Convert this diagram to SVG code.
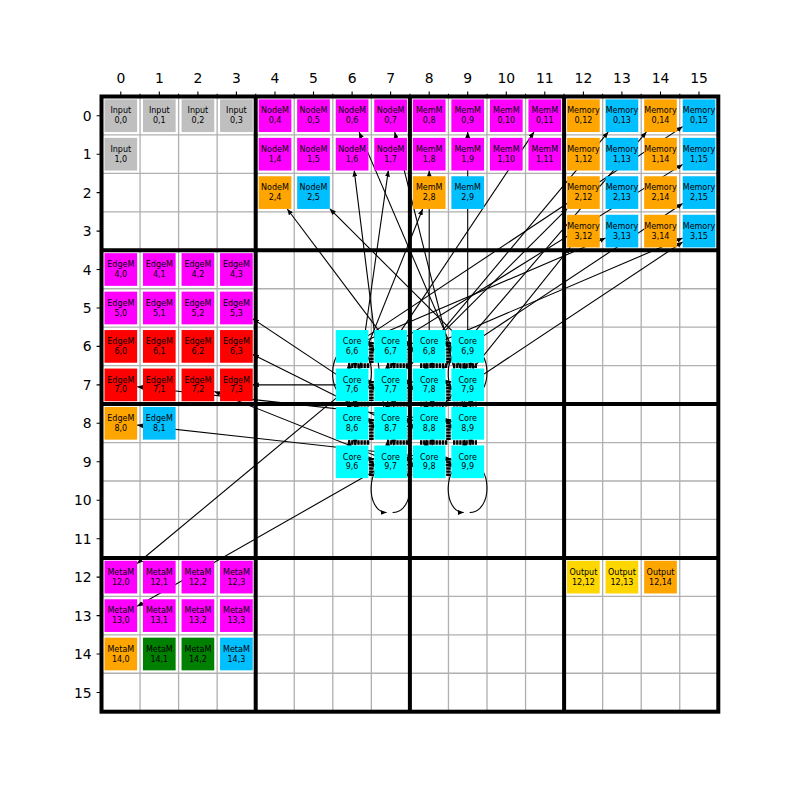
<svg xmlns="http://www.w3.org/2000/svg" width="800" height="800" viewBox="0 0 800 800">
<style>
.g{stroke:#b0b0b0;stroke-width:1.3;fill:none}
.tk{stroke:#000;stroke-width:1.1;fill:none}
.th{stroke:#000;stroke-width:4;fill:none}
.tl{font-family:"DejaVu Sans","Liberation Sans",sans-serif;font-size:13.9px;fill:#000}
.n text{font-family:"DejaVu Sans","Liberation Sans",sans-serif;font-size:8px;fill:#000;text-anchor:middle}
.n rect{stroke:none}
.gy{fill:#bfbfbf}.mg{fill:#ff00ff}.or{fill:#ffa500}.bl{fill:#00bfff}.rd{fill:#ff0000}.cy{fill:#00ffff}.gn{fill:#008000}.gd{fill:#ffd700}
.e line,.e path{stroke:#000;stroke-width:1.1;fill:none;marker-end:url(#ah)}
.e path.bar{stroke-width:4.6;stroke-dasharray:2.4 0.7;marker-end:none}
</style>
<defs>
<marker id="ah" viewBox="0 0 6 5" refX="6" refY="2.5" markerWidth="6" markerHeight="5" markerUnits="userSpaceOnUse" orient="auto"><path d="M0,0 L6,2.5 L0,5 z" fill="#000"/></marker>
<g id="b"><rect x="-16.35" y="-16.35" width="32.7" height="32.7"/></g>
</defs>
<rect width="800" height="800" fill="#fff"/>
<g id="grid">
<path class="g" d="M140.05,96.5V711.7M178.6,96.5V711.7M217.15,96.5V711.7M294.25,96.5V711.7M332.8,96.5V711.7M371.35,96.5V711.7M448.45,96.5V711.7M487,96.5V711.7M525.55,96.5V711.7M602.65,96.5V711.7M641.2,96.5V711.7M679.75,96.5V711.7M101.5,134.95H718.3M101.5,173.4H718.3M101.5,211.85H718.3M101.5,288.75H718.3M101.5,327.2H718.3M101.5,365.65H718.3M101.5,442.55H718.3M101.5,481H718.3M101.5,519.45H718.3M101.5,596.35H718.3M101.5,634.8H718.3M101.5,673.25H718.3"/>
<path class="th" d="M255.7,96.5V711.7M409.9,96.5V711.7M564.1,96.5V711.7M101.5,250.3H718.3M101.5,404.1H718.3M101.5,557.9H718.3"/>
<rect class="th" x="101.5" y="96.5" width="616.8" height="615.2"/>
<path class="tk" d="M120.8,96.5v-4.9M159.3,96.5v-4.9M197.9,96.5v-4.9M236.4,96.5v-4.9M275,96.5v-4.9M313.5,96.5v-4.9M352.1,96.5v-4.9M390.6,96.5v-4.9M429.2,96.5v-4.9M467.7,96.5v-4.9M506.3,96.5v-4.9M544.8,96.5v-4.9M583.4,96.5v-4.9M621.9,96.5v-4.9M660.5,96.5v-4.9M699,96.5v-4.9M140.05,96.5v-2.8M178.6,96.5v-2.8M217.15,96.5v-2.8M255.7,96.5v-2.8M294.25,96.5v-2.8M332.8,96.5v-2.8M371.35,96.5v-2.8M409.9,96.5v-2.8M448.45,96.5v-2.8M487,96.5v-2.8M525.55,96.5v-2.8M564.1,96.5v-2.8M602.65,96.5v-2.8M641.2,96.5v-2.8M679.75,96.5v-2.8M101.5,115.7h-4.9M101.5,154.2h-4.9M101.5,192.6h-4.9M101.5,231.1h-4.9M101.5,269.5h-4.9M101.5,308h-4.9M101.5,346.4h-4.9M101.5,384.9h-4.9M101.5,423.3h-4.9M101.5,461.8h-4.9M101.5,500.2h-4.9M101.5,538.7h-4.9M101.5,577.1h-4.9M101.5,615.6h-4.9M101.5,654h-4.9M101.5,692.5h-4.9"/>
</g>
<g id="ticklabels" class="tl">
<g text-anchor="middle">
<text x="120.8" y="83.3">0</text><text x="159.3" y="83.3">1</text><text x="197.9" y="83.3">2</text><text x="236.4" y="83.3">3</text><text x="275" y="83.3">4</text><text x="313.5" y="83.3">5</text><text x="352.1" y="83.3">6</text><text x="390.6" y="83.3">7</text><text x="429.2" y="83.3">8</text><text x="467.7" y="83.3">9</text><text x="506.3" y="83.3">10</text><text x="544.8" y="83.3">11</text><text x="583.4" y="83.3">12</text><text x="621.9" y="83.3">13</text><text x="660.5" y="83.3">14</text><text x="699" y="83.3">15</text>
</g>
<g text-anchor="end">
<text x="91.7" y="120.7">0</text><text x="91.7" y="159.2">1</text><text x="91.7" y="197.6">2</text><text x="91.7" y="236.1">3</text><text x="91.7" y="274.5">4</text><text x="91.7" y="313">5</text><text x="91.7" y="351.4">6</text><text x="91.7" y="389.9">7</text><text x="91.7" y="428.3">8</text><text x="91.7" y="466.8">9</text><text x="91.7" y="505.2">10</text><text x="91.7" y="543.7">11</text><text x="91.7" y="582.1">12</text><text x="91.7" y="620.6">13</text><text x="91.7" y="659">14</text><text x="91.7" y="697.5">15</text>
</g>
</g>
<g id="connectors" class="e">
<line x1="467.7" y1="384.9" x2="359.1" y2="132.1"/>
<line x1="467.7" y1="423.3" x2="394.7" y2="132.1"/>
<line x1="352.1" y1="423.3" x2="388.3" y2="170.6"/>
<line x1="467.7" y1="346.4" x2="467.7" y2="132.1"/>
<line x1="429.2" y1="346.4" x2="429.2" y2="170.6"/>
<line x1="352.1" y1="384.9" x2="422.6" y2="209"/>
<line x1="390.6" y1="346.4" x2="533.9" y2="132.1"/>
<line x1="390.6" y1="346.4" x2="287.3" y2="209"/>
<line x1="467.7" y1="346.4" x2="329.9" y2="208.9"/>
<line x1="429.2" y1="346.4" x2="608.2" y2="132.1"/>
<line x1="467.7" y1="346.4" x2="682.7" y2="203.5"/>
<line x1="467.7" y1="384.9" x2="682.7" y2="242"/>
<line x1="429.2" y1="346.4" x2="682.7" y2="238.1"/>
<line x1="352.1" y1="346.4" x2="682.7" y2="126.6"/>
<line x1="429.2" y1="384.9" x2="646.4" y2="132.1"/>
<line x1="390.6" y1="346.4" x2="682.7" y2="164.4"/>
<line x1="352.1" y1="346.4" x2="605.6" y2="238.1"/>
<line x1="390.6" y1="384.9" x2="567" y2="208.9"/>
<line x1="429.2" y1="423.3" x2="570.3" y2="247.4"/>
<line x1="390.6" y1="461.8" x2="354.2" y2="170.6"/>
<line x1="467.7" y1="423.3" x2="137.2" y2="386.7"/>
<line x1="390.6" y1="461.8" x2="214.3" y2="391.4"/>
<line x1="352.1" y1="384.9" x2="252.8" y2="384.9"/>
<line x1="352.1" y1="384.9" x2="252.8" y2="318.9"/>
<line x1="390.6" y1="423.3" x2="252.8" y2="354.6"/>
<line x1="467.7" y1="461.8" x2="137.2" y2="425.1"/>
<line x1="352.1" y1="384.9" x2="137.2" y2="563.5"/>
<line x1="390.6" y1="461.8" x2="137.2" y2="606.3"/>
<path d="M392.6,512.5C416,512.5 416,461.8 390.6,461.8C365.3,461.8 365.3,512.5 386.6,512.5"/>
<path d="M469.7,512.5C493.1,512.5 493.1,461.8 467.7,461.8C442.4,461.8 442.4,512.5 463.7,512.5"/>
<path d="M354.1,397.1C377.5,397.1 377.5,346.4 352.1,346.4C326.8,346.4 326.8,397.1 348.1,397.1"/>
<path d="M469.7,397.1C493.1,397.1 493.1,346.4 467.7,346.4C442.4,346.4 442.4,397.1 463.7,397.1"/>
<path class="bar" d="M348,365.65H370M387,365.65H408M420,365.65H448M453,365.65H477M348,442.55H370M387,442.55H408M420,442.55H448M453,442.55H477M348,404.1H370M387,404.1H408M420,404.1H448M453,404.1H477"/>
<path class="bar" d="M371.35,342V363M371.35,381V401M371.35,419V440M371.35,458V476M448.45,342V363M448.45,381V401M448.45,419V440M448.45,458V476M409.9,342V363M409.9,381V401M409.9,419V440M409.9,458V476"/>
<line x1="352.1" y1="343.4" x2="374.25" y2="343.4"/><line x1="390.6" y1="349.4" x2="368.45" y2="349.4"/>
<line x1="390.6" y1="343.4" x2="412.85" y2="343.4"/><line x1="429.2" y1="349.4" x2="406.95" y2="349.4"/>
<line x1="429.2" y1="343.4" x2="451.35" y2="343.4"/><line x1="467.7" y1="349.4" x2="445.55" y2="349.4"/>
<line x1="352.1" y1="381.9" x2="374.25" y2="381.9"/><line x1="390.6" y1="387.9" x2="368.45" y2="387.9"/>
<line x1="390.6" y1="381.9" x2="412.85" y2="381.9"/><line x1="429.2" y1="387.9" x2="406.95" y2="387.9"/>
<line x1="429.2" y1="381.9" x2="451.35" y2="381.9"/><line x1="467.7" y1="387.9" x2="445.55" y2="387.9"/>
<line x1="352.1" y1="420.3" x2="374.25" y2="420.3"/><line x1="390.6" y1="426.3" x2="368.45" y2="426.3"/>
<line x1="390.6" y1="420.3" x2="412.85" y2="420.3"/><line x1="429.2" y1="426.3" x2="406.95" y2="426.3"/>
<line x1="429.2" y1="420.3" x2="451.35" y2="420.3"/><line x1="467.7" y1="426.3" x2="445.55" y2="426.3"/>
<line x1="352.1" y1="458.8" x2="374.25" y2="458.8"/><line x1="390.6" y1="464.8" x2="368.45" y2="464.8"/>
<line x1="390.6" y1="458.8" x2="412.85" y2="458.8"/><line x1="429.2" y1="464.8" x2="406.95" y2="464.8"/>
<line x1="429.2" y1="458.8" x2="451.35" y2="458.8"/><line x1="467.7" y1="464.8" x2="445.55" y2="464.8"/>
<line x1="355.1" y1="346.4" x2="355.1" y2="368.55"/><line x1="349.1" y1="384.9" x2="349.1" y2="362.75"/>
<line x1="393.6" y1="346.4" x2="393.6" y2="368.55"/><line x1="387.6" y1="384.9" x2="387.6" y2="362.75"/>
<line x1="432.2" y1="346.4" x2="432.2" y2="368.55"/><line x1="426.2" y1="384.9" x2="426.2" y2="362.75"/>
<line x1="470.7" y1="346.4" x2="470.7" y2="368.55"/><line x1="464.7" y1="384.9" x2="464.7" y2="362.75"/>
<line x1="355.1" y1="384.9" x2="355.1" y2="406.95"/><line x1="349.1" y1="423.3" x2="349.1" y2="401.25"/>
<line x1="393.6" y1="384.9" x2="393.6" y2="406.95"/><line x1="387.6" y1="423.3" x2="387.6" y2="401.25"/>
<line x1="432.2" y1="384.9" x2="432.2" y2="406.95"/><line x1="426.2" y1="423.3" x2="426.2" y2="401.25"/>
<line x1="470.7" y1="384.9" x2="470.7" y2="406.95"/><line x1="464.7" y1="423.3" x2="464.7" y2="401.25"/>
<line x1="355.1" y1="423.3" x2="355.1" y2="445.45"/><line x1="349.1" y1="461.8" x2="349.1" y2="439.65"/>
<line x1="393.6" y1="423.3" x2="393.6" y2="445.45"/><line x1="387.6" y1="461.8" x2="387.6" y2="439.65"/>
<line x1="432.2" y1="423.3" x2="432.2" y2="445.45"/><line x1="426.2" y1="461.8" x2="426.2" y2="439.65"/>
<line x1="470.7" y1="423.3" x2="470.7" y2="445.45"/><line x1="464.7" y1="461.8" x2="464.7" y2="439.65"/>
</g>
<g id="nodes" class="n">
<g id="n0-0" transform="translate(120.8,115.7)"><use href="#b" class="gy"/><text y="-2.3">Input</text><text y="7.5">0,0</text></g>
<g id="n0-1" transform="translate(159.3,115.7)"><use href="#b" class="gy"/><text y="-2.3">Input</text><text y="7.5">0,1</text></g>
<g id="n0-2" transform="translate(197.9,115.7)"><use href="#b" class="gy"/><text y="-2.3">Input</text><text y="7.5">0,2</text></g>
<g id="n0-3" transform="translate(236.4,115.7)"><use href="#b" class="gy"/><text y="-2.3">Input</text><text y="7.5">0,3</text></g>
<g id="n1-0" transform="translate(120.8,154.2)"><use href="#b" class="gy"/><text y="-2.3">Input</text><text y="7.5">1,0</text></g>
<g id="n0-4" transform="translate(275,115.7)"><use href="#b" class="mg"/><text y="-2.3">NodeM</text><text y="7.5">0,4</text></g>
<g id="n0-5" transform="translate(313.5,115.7)"><use href="#b" class="mg"/><text y="-2.3">NodeM</text><text y="7.5">0,5</text></g>
<g id="n0-6" transform="translate(352.1,115.7)"><use href="#b" class="mg"/><text y="-2.3">NodeM</text><text y="7.5">0,6</text></g>
<g id="n0-7" transform="translate(390.6,115.7)"><use href="#b" class="mg"/><text y="-2.3">NodeM</text><text y="7.5">0,7</text></g>
<g id="n1-4" transform="translate(275,154.2)"><use href="#b" class="mg"/><text y="-2.3">NodeM</text><text y="7.5">1,4</text></g>
<g id="n1-5" transform="translate(313.5,154.2)"><use href="#b" class="mg"/><text y="-2.3">NodeM</text><text y="7.5">1,5</text></g>
<g id="n1-6" transform="translate(352.1,154.2)"><use href="#b" class="mg"/><text y="-2.3">NodeM</text><text y="7.5">1,6</text></g>
<g id="n1-7" transform="translate(390.6,154.2)"><use href="#b" class="mg"/><text y="-2.3">NodeM</text><text y="7.5">1,7</text></g>
<g id="n2-4" transform="translate(275,192.6)"><use href="#b" class="or"/><text y="-2.3">NodeM</text><text y="7.5">2,4</text></g>
<g id="n2-5" transform="translate(313.5,192.6)"><use href="#b" class="bl"/><text y="-2.3">NodeM</text><text y="7.5">2,5</text></g>
<g id="n0-8" transform="translate(429.2,115.7)"><use href="#b" class="mg"/><text y="-2.3">MemM</text><text y="7.5">0,8</text></g>
<g id="n0-9" transform="translate(467.7,115.7)"><use href="#b" class="mg"/><text y="-2.3">MemM</text><text y="7.5">0,9</text></g>
<g id="n0-10" transform="translate(506.3,115.7)"><use href="#b" class="mg"/><text y="-2.3">MemM</text><text y="7.5">0,10</text></g>
<g id="n0-11" transform="translate(544.8,115.7)"><use href="#b" class="mg"/><text y="-2.3">MemM</text><text y="7.5">0,11</text></g>
<g id="n1-8" transform="translate(429.2,154.2)"><use href="#b" class="mg"/><text y="-2.3">MemM</text><text y="7.5">1,8</text></g>
<g id="n1-9" transform="translate(467.7,154.2)"><use href="#b" class="mg"/><text y="-2.3">MemM</text><text y="7.5">1,9</text></g>
<g id="n1-10" transform="translate(506.3,154.2)"><use href="#b" class="mg"/><text y="-2.3">MemM</text><text y="7.5">1,10</text></g>
<g id="n1-11" transform="translate(544.8,154.2)"><use href="#b" class="mg"/><text y="-2.3">MemM</text><text y="7.5">1,11</text></g>
<g id="n2-8" transform="translate(429.2,192.6)"><use href="#b" class="or"/><text y="-2.3">MemM</text><text y="7.5">2,8</text></g>
<g id="n2-9" transform="translate(467.7,192.6)"><use href="#b" class="bl"/><text y="-2.3">MemM</text><text y="7.5">2,9</text></g>
<g id="n0-12" transform="translate(583.4,115.7)"><use href="#b" class="or"/><text y="-2.3">Memory</text><text y="7.5">0,12</text></g>
<g id="n0-13" transform="translate(621.9,115.7)"><use href="#b" class="bl"/><text y="-2.3">Memory</text><text y="7.5">0,13</text></g>
<g id="n0-14" transform="translate(660.5,115.7)"><use href="#b" class="or"/><text y="-2.3">Memory</text><text y="7.5">0,14</text></g>
<g id="n0-15" transform="translate(699,115.7)"><use href="#b" class="bl"/><text y="-2.3">Memory</text><text y="7.5">0,15</text></g>
<g id="n1-12" transform="translate(583.4,154.2)"><use href="#b" class="or"/><text y="-2.3">Memory</text><text y="7.5">1,12</text></g>
<g id="n1-13" transform="translate(621.9,154.2)"><use href="#b" class="bl"/><text y="-2.3">Memory</text><text y="7.5">1,13</text></g>
<g id="n1-14" transform="translate(660.5,154.2)"><use href="#b" class="or"/><text y="-2.3">Memory</text><text y="7.5">1,14</text></g>
<g id="n1-15" transform="translate(699,154.2)"><use href="#b" class="bl"/><text y="-2.3">Memory</text><text y="7.5">1,15</text></g>
<g id="n2-12" transform="translate(583.4,192.6)"><use href="#b" class="or"/><text y="-2.3">Memory</text><text y="7.5">2,12</text></g>
<g id="n2-13" transform="translate(621.9,192.6)"><use href="#b" class="bl"/><text y="-2.3">Memory</text><text y="7.5">2,13</text></g>
<g id="n2-14" transform="translate(660.5,192.6)"><use href="#b" class="or"/><text y="-2.3">Memory</text><text y="7.5">2,14</text></g>
<g id="n2-15" transform="translate(699,192.6)"><use href="#b" class="bl"/><text y="-2.3">Memory</text><text y="7.5">2,15</text></g>
<g id="n3-12" transform="translate(583.4,231.1)"><use href="#b" class="or"/><text y="-2.3">Memory</text><text y="7.5">3,12</text></g>
<g id="n3-13" transform="translate(621.9,231.1)"><use href="#b" class="bl"/><text y="-2.3">Memory</text><text y="7.5">3,13</text></g>
<g id="n3-14" transform="translate(660.5,231.1)"><use href="#b" class="or"/><text y="-2.3">Memory</text><text y="7.5">3,14</text></g>
<g id="n3-15" transform="translate(699,231.1)"><use href="#b" class="bl"/><text y="-2.3">Memory</text><text y="7.5">3,15</text></g>
<g id="n4-0" transform="translate(120.8,269.5)"><use href="#b" class="mg"/><text y="-2.3">EdgeM</text><text y="7.5">4,0</text></g>
<g id="n4-1" transform="translate(159.3,269.5)"><use href="#b" class="mg"/><text y="-2.3">EdgeM</text><text y="7.5">4,1</text></g>
<g id="n4-2" transform="translate(197.9,269.5)"><use href="#b" class="mg"/><text y="-2.3">EdgeM</text><text y="7.5">4,2</text></g>
<g id="n4-3" transform="translate(236.4,269.5)"><use href="#b" class="mg"/><text y="-2.3">EdgeM</text><text y="7.5">4,3</text></g>
<g id="n5-0" transform="translate(120.8,308)"><use href="#b" class="mg"/><text y="-2.3">EdgeM</text><text y="7.5">5,0</text></g>
<g id="n5-1" transform="translate(159.3,308)"><use href="#b" class="mg"/><text y="-2.3">EdgeM</text><text y="7.5">5,1</text></g>
<g id="n5-2" transform="translate(197.9,308)"><use href="#b" class="mg"/><text y="-2.3">EdgeM</text><text y="7.5">5,2</text></g>
<g id="n5-3" transform="translate(236.4,308)"><use href="#b" class="mg"/><text y="-2.3">EdgeM</text><text y="7.5">5,3</text></g>
<g id="n6-0" transform="translate(120.8,346.4)"><use href="#b" class="rd"/><text y="-2.3">EdgeM</text><text y="7.5">6,0</text></g>
<g id="n6-1" transform="translate(159.3,346.4)"><use href="#b" class="rd"/><text y="-2.3">EdgeM</text><text y="7.5">6,1</text></g>
<g id="n6-2" transform="translate(197.9,346.4)"><use href="#b" class="rd"/><text y="-2.3">EdgeM</text><text y="7.5">6,2</text></g>
<g id="n6-3" transform="translate(236.4,346.4)"><use href="#b" class="rd"/><text y="-2.3">EdgeM</text><text y="7.5">6,3</text></g>
<g id="n7-0" transform="translate(120.8,384.9)"><use href="#b" class="rd"/><text y="-2.3">EdgeM</text><text y="7.5">7,0</text></g>
<g id="n7-1" transform="translate(159.3,384.9)"><use href="#b" class="rd"/><text y="-2.3">EdgeM</text><text y="7.5">7,1</text></g>
<g id="n7-2" transform="translate(197.9,384.9)"><use href="#b" class="rd"/><text y="-2.3">EdgeM</text><text y="7.5">7,2</text></g>
<g id="n7-3" transform="translate(236.4,384.9)"><use href="#b" class="rd"/><text y="-2.3">EdgeM</text><text y="7.5">7,3</text></g>
<g id="n8-0" transform="translate(120.8,423.3)"><use href="#b" class="or"/><text y="-2.3">EdgeM</text><text y="7.5">8,0</text></g>
<g id="n8-1" transform="translate(159.3,423.3)"><use href="#b" class="bl"/><text y="-2.3">EdgeM</text><text y="7.5">8,1</text></g>
<g id="n6-6" transform="translate(352.1,346.4)"><use href="#b" class="cy"/><text y="-2.3">Core</text><text y="7.5">6,6</text></g>
<g id="n6-7" transform="translate(390.6,346.4)"><use href="#b" class="cy"/><text y="-2.3">Core</text><text y="7.5">6,7</text></g>
<g id="n6-8" transform="translate(429.2,346.4)"><use href="#b" class="cy"/><text y="-2.3">Core</text><text y="7.5">6,8</text></g>
<g id="n6-9" transform="translate(467.7,346.4)"><use href="#b" class="cy"/><text y="-2.3">Core</text><text y="7.5">6,9</text></g>
<g id="n7-6" transform="translate(352.1,384.9)"><use href="#b" class="cy"/><text y="-2.3">Core</text><text y="7.5">7,6</text></g>
<g id="n7-7" transform="translate(390.6,384.9)"><use href="#b" class="cy"/><text y="-2.3">Core</text><text y="7.5">7,7</text></g>
<g id="n7-8" transform="translate(429.2,384.9)"><use href="#b" class="cy"/><text y="-2.3">Core</text><text y="7.5">7,8</text></g>
<g id="n7-9" transform="translate(467.7,384.9)"><use href="#b" class="cy"/><text y="-2.3">Core</text><text y="7.5">7,9</text></g>
<g id="n8-6" transform="translate(352.1,423.3)"><use href="#b" class="cy"/><text y="-2.3">Core</text><text y="7.5">8,6</text></g>
<g id="n8-7" transform="translate(390.6,423.3)"><use href="#b" class="cy"/><text y="-2.3">Core</text><text y="7.5">8,7</text></g>
<g id="n8-8" transform="translate(429.2,423.3)"><use href="#b" class="cy"/><text y="-2.3">Core</text><text y="7.5">8,8</text></g>
<g id="n8-9" transform="translate(467.7,423.3)"><use href="#b" class="cy"/><text y="-2.3">Core</text><text y="7.5">8,9</text></g>
<g id="n9-6" transform="translate(352.1,461.8)"><use href="#b" class="cy"/><text y="-2.3">Core</text><text y="7.5">9,6</text></g>
<g id="n9-7" transform="translate(390.6,461.8)"><use href="#b" class="cy"/><text y="-2.3">Core</text><text y="7.5">9,7</text></g>
<g id="n9-8" transform="translate(429.2,461.8)"><use href="#b" class="cy"/><text y="-2.3">Core</text><text y="7.5">9,8</text></g>
<g id="n9-9" transform="translate(467.7,461.8)"><use href="#b" class="cy"/><text y="-2.3">Core</text><text y="7.5">9,9</text></g>
<g id="n12-0" transform="translate(120.8,577.1)"><use href="#b" class="mg"/><text y="-2.3">MetaM</text><text y="7.5">12,0</text></g>
<g id="n12-1" transform="translate(159.3,577.1)"><use href="#b" class="mg"/><text y="-2.3">MetaM</text><text y="7.5">12,1</text></g>
<g id="n12-2" transform="translate(197.9,577.1)"><use href="#b" class="mg"/><text y="-2.3">MetaM</text><text y="7.5">12,2</text></g>
<g id="n12-3" transform="translate(236.4,577.1)"><use href="#b" class="mg"/><text y="-2.3">MetaM</text><text y="7.5">12,3</text></g>
<g id="n13-0" transform="translate(120.8,615.6)"><use href="#b" class="mg"/><text y="-2.3">MetaM</text><text y="7.5">13,0</text></g>
<g id="n13-1" transform="translate(159.3,615.6)"><use href="#b" class="mg"/><text y="-2.3">MetaM</text><text y="7.5">13,1</text></g>
<g id="n13-2" transform="translate(197.9,615.6)"><use href="#b" class="mg"/><text y="-2.3">MetaM</text><text y="7.5">13,2</text></g>
<g id="n13-3" transform="translate(236.4,615.6)"><use href="#b" class="mg"/><text y="-2.3">MetaM</text><text y="7.5">13,3</text></g>
<g id="n14-0" transform="translate(120.8,654)"><use href="#b" class="or"/><text y="-2.3">MetaM</text><text y="7.5">14,0</text></g>
<g id="n14-1" transform="translate(159.3,654)"><use href="#b" class="gn"/><text y="-2.3">MetaM</text><text y="7.5">14,1</text></g>
<g id="n14-2" transform="translate(197.9,654)"><use href="#b" class="gn"/><text y="-2.3">MetaM</text><text y="7.5">14,2</text></g>
<g id="n14-3" transform="translate(236.4,654)"><use href="#b" class="bl"/><text y="-2.3">MetaM</text><text y="7.5">14,3</text></g>
<g id="n12-12" transform="translate(583.4,577.1)"><use href="#b" class="gd"/><text y="-2.3">Output</text><text y="7.5">12,12</text></g>
<g id="n12-13" transform="translate(621.9,577.1)"><use href="#b" class="gd"/><text y="-2.3">Output</text><text y="7.5">12,13</text></g>
<g id="n12-14" transform="translate(660.5,577.1)"><use href="#b" class="or"/><text y="-2.3">Output</text><text y="7.5">12,14</text></g>
</g>
</svg>
